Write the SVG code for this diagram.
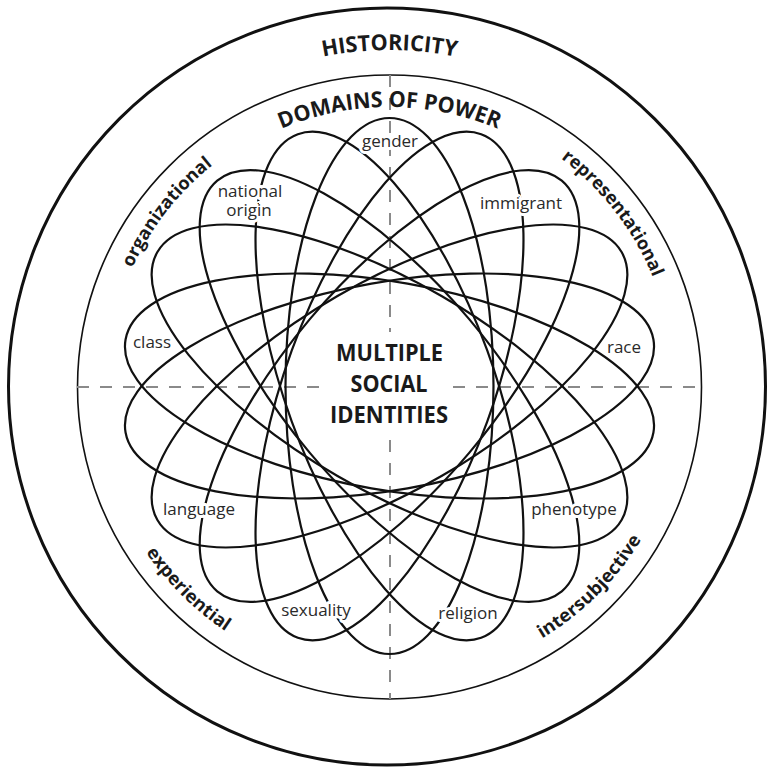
<svg xmlns="http://www.w3.org/2000/svg" xmlns:xlink="http://www.w3.org/1999/xlink" width="768" height="770" viewBox="0 0 768 770">
  <style>
    .ring-outer { fill: none; stroke: #111; stroke-width: 3; }
    .ring-inner { fill: none; stroke: #111; stroke-width: 1.6; }
    .axis { fill: none; stroke: #8a8a8a; stroke-width: 2; stroke-dasharray: 12 11; }
    .ell { fill: none; stroke: #111; stroke-width: 2.2; }
    .arc-title { font-family: "Open Sans", "Liberation Sans", sans-serif; font-weight: 700; font-size: 22px; fill: #1a1a1a; }
    .domain { font-family: "Open Sans", "Liberation Sans", sans-serif; font-weight: 700; font-size: 18px; fill: #1a1a1a; }
    .label { font-family: "Open Sans", "Liberation Sans", sans-serif; font-size: 17px; fill: #2a2a2a; text-anchor: middle; stroke: #fff; stroke-width: 6; stroke-linejoin: round; paint-order: stroke; }
    .center { font-family: "Open Sans", "Liberation Sans", sans-serif; font-weight: 700; font-size: 24px; fill: #1a1a1a; text-anchor: middle; }
  </style>
  <defs>
    <path id="p-hist" d="M98.52 218 A336 336 0 0 1 680.48 218"/>
    <path id="p-dom" d="M147.88 246.5 A279 279 0 0 1 631.12 246.5"/>
    <path id="p-org" d="M127.11 492.01 A283 283 0 0 1 428.89 105.75"/>
    <path id="p-rep" d="M351.31 103.57 A285 285 0 0 1 653.19 494.15"/>
    <path id="p-exp" d="M104.22 310.89 A295 295 0 0 0 467.09 670.61"/>
    <path id="p-int" d="M312.65 670.81 A295 295 0 0 0 674.58 310.15"/>
    <ellipse id="petal" cx="0" cy="0" rx="268" ry="104"/>
  </defs>
  <rect width="768" height="770" fill="#fff"/>

  <g id="rings">
    <circle class="ring-outer" cx="387" cy="386.5" r="378.5"/>
    <circle class="ring-inner" cx="389.5" cy="387" r="312"/>
  </g>

  <g id="axes">
    <path class="axis" d="M77 387 H323 M453 387 H702"/>
    <path class="axis" d="M390 75 V332 M390 440 V699"/>
  </g>

  <g id="connectors">
    <use xlink:href="#petal" class="ell" transform="translate(389.5 386) rotate(-90)"/>
    <use xlink:href="#petal" class="ell" transform="translate(389.5 386) rotate(-70)"/>
    <use xlink:href="#petal" class="ell" transform="translate(389.5 386) rotate(-50)"/>
    <use xlink:href="#petal" class="ell" transform="translate(389.5 386) rotate(-30)"/>
    <use xlink:href="#petal" class="ell" transform="translate(389.5 386) rotate(-10)"/>
    <use xlink:href="#petal" class="ell" transform="translate(389.5 386) rotate(10)"/>
    <use xlink:href="#petal" class="ell" transform="translate(389.5 386) rotate(30)"/>
    <use xlink:href="#petal" class="ell" transform="translate(389.5 386) rotate(50)"/>
    <use xlink:href="#petal" class="ell" transform="translate(389.5 386) rotate(70)"/>
  </g>

  <g id="historicity">
    <text class="arc-title"><textPath xlink:href="#p-hist" startOffset="50%" text-anchor="middle" textLength="134" lengthAdjust="spacingAndGlyphs">HISTORICITY</textPath></text>
  </g>
  <g id="domains-of-power">
    <text class="arc-title"><textPath xlink:href="#p-dom" startOffset="50%" text-anchor="middle" textLength="222" lengthAdjust="spacingAndGlyphs">DOMAINS OF POWER</textPath></text>
  </g>
  <g id="organizational">
    <text class="domain"><textPath xlink:href="#p-org" startOffset="50%" text-anchor="middle" textLength="132" lengthAdjust="spacingAndGlyphs">organizational</textPath></text>
  </g>
  <g id="representational">
    <text class="domain"><textPath xlink:href="#p-rep" startOffset="50%" text-anchor="middle" textLength="152" lengthAdjust="spacingAndGlyphs">representational</textPath></text>
  </g>
  <g id="experiential">
    <text class="domain"><textPath xlink:href="#p-exp" startOffset="50%" text-anchor="middle" textLength="113" lengthAdjust="spacingAndGlyphs">experiential</textPath></text>
  </g>
  <g id="intersubjective">
    <text class="domain"><textPath xlink:href="#p-int" startOffset="50%" text-anchor="middle" textLength="142" lengthAdjust="spacingAndGlyphs">intersubjective</textPath></text>
  </g>

  <g id="gender"><text class="label" x="390" y="147">gender</text></g>
  <g id="immigrant"><text class="label" x="521" y="209">immigrant</text></g>
  <g id="race"><text class="label" x="624" y="353">race</text></g>
  <g id="phenotype"><text class="label" x="574" y="515">phenotype</text></g>
  <g id="religion"><text class="label" x="468" y="619">religion</text></g>
  <g id="sexuality"><text class="label" x="316" y="616">sexuality</text></g>
  <g id="language"><text class="label" x="199" y="515">language</text></g>
  <g id="class"><text class="label" x="152" y="348">class</text></g>
  <g id="national-origin"><text class="label"><tspan x="250" y="197">national</tspan><tspan x="249" y="216">origin</tspan></text></g>

  <g id="multiple-social-identities">
    <text class="center" x="389.5" y="361" textLength="107" lengthAdjust="spacingAndGlyphs">MULTIPLE</text>
    <text class="center" x="389" y="392" textLength="77" lengthAdjust="spacingAndGlyphs">SOCIAL</text>
    <text class="center" x="389" y="423" textLength="118" lengthAdjust="spacingAndGlyphs">IDENTITIES</text>
  </g>
</svg>
